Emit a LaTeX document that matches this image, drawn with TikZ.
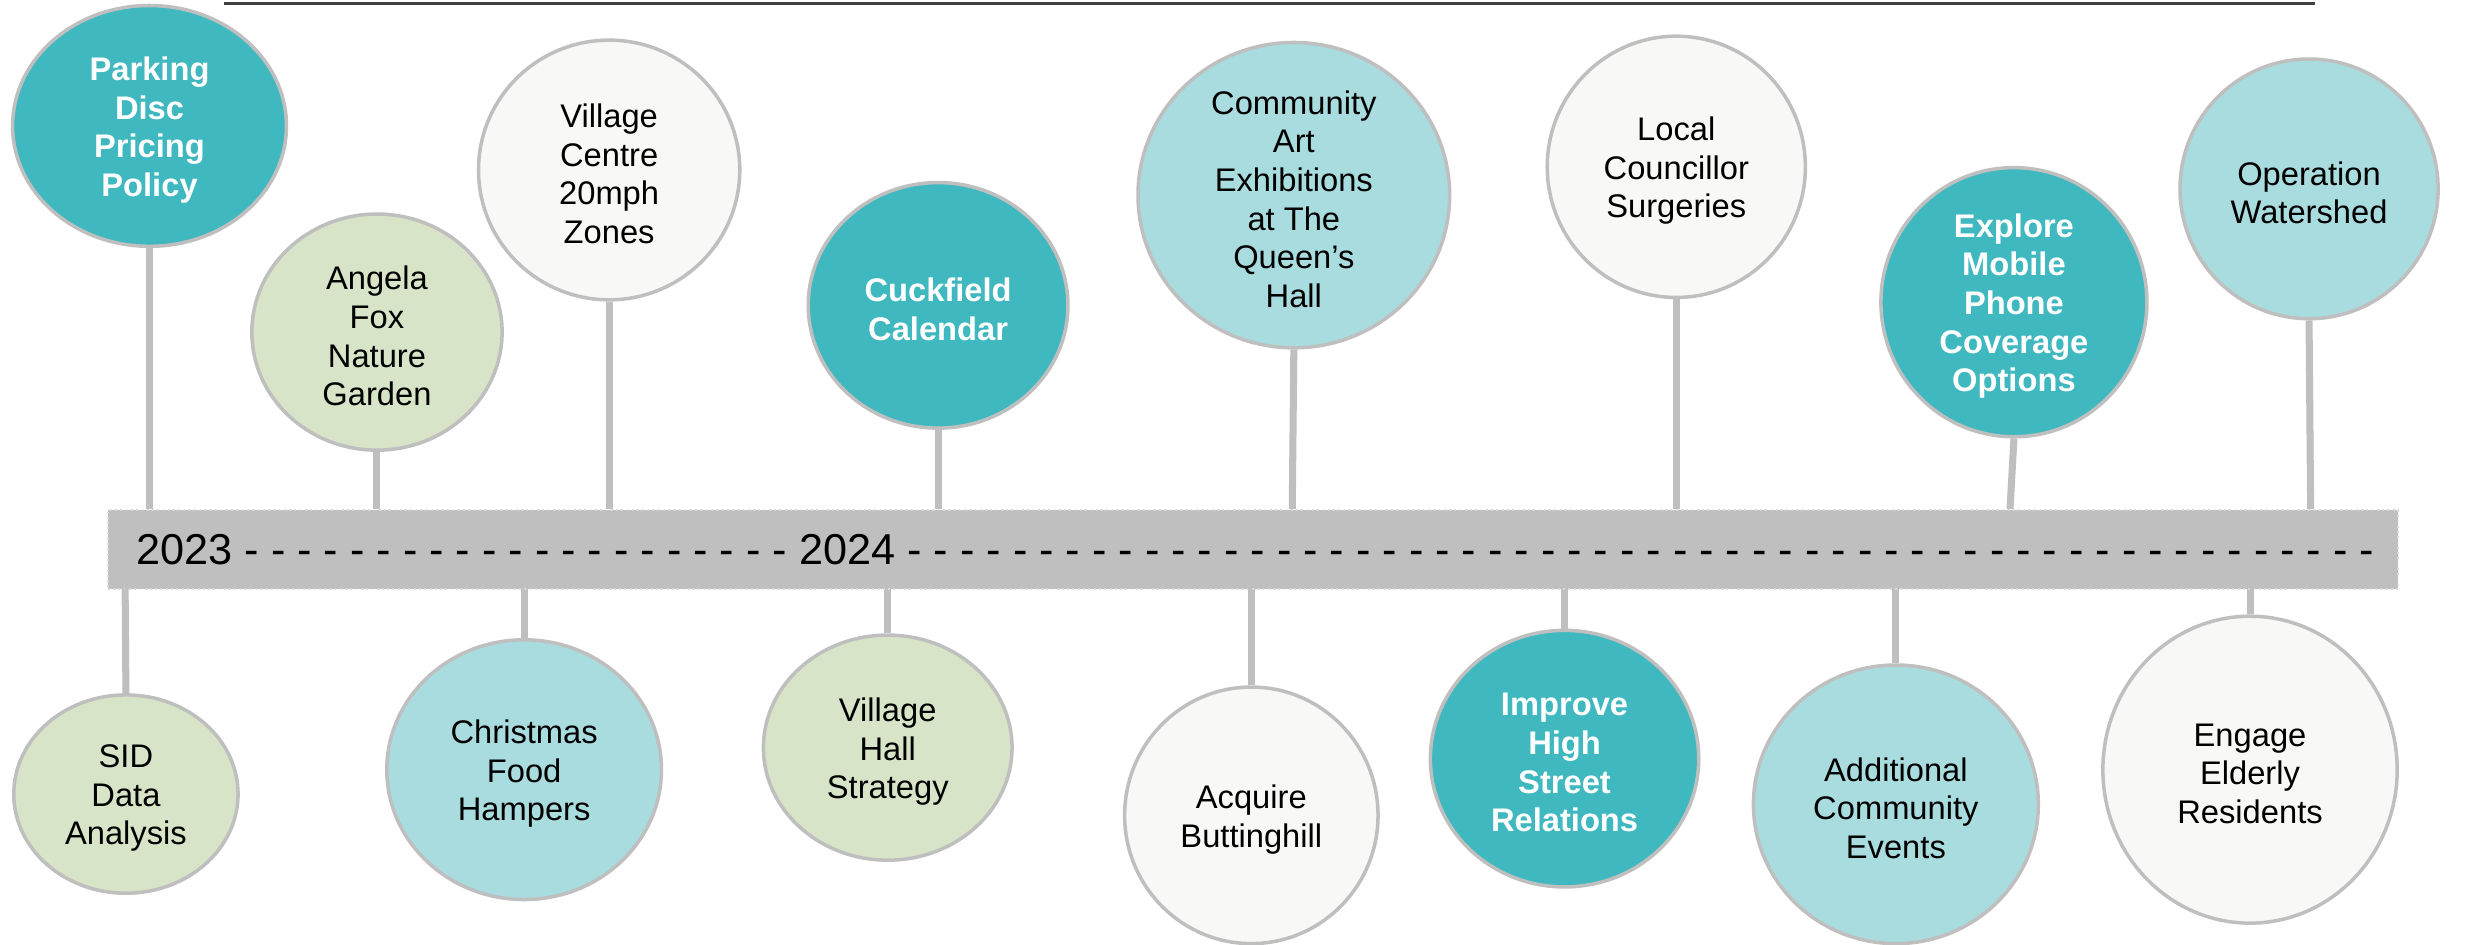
\documentclass[tikz,border=0pt]{standalone}
\usepackage{fontspec}
\setmainfont{Liberation Sans}
\usetikzlibrary{shapes.geometric,backgrounds}
\definecolor{tealc}{HTML}{3FB8BF}
\definecolor{lblue}{HTML}{A9DCDF}
\definecolor{lgreen}{HTML}{D8E4C7}
\definecolor{offw}{HTML}{F8F8F6}
\definecolor{ringgray}{HTML}{BFBFBF}
\definecolor{bargray}{HTML}{BFBFBF}
\definecolor{topline}{HTML}{404040}
\tikzset{
  blob/.style={ellipse, draw=ringgray, line width=1pt, inner sep=0pt},
  tealb/.style={blob, fill=tealc},
  blueb/.style={blob, fill=lblue},
  greenb/.style={blob, fill=lgreen},
  whiteb/.style={blob, fill=offw},
  btxt/.style={align=center, inner sep=0pt, yshift=-0.4mm, font=\fontsize{9.3}{11}\selectfont},
  ttxt/.style={btxt, text=white, font=\bfseries\fontsize{9.3}{11}\selectfont},
  stem/.style={draw=ringgray, line width=2pt},
}
\newcommand\bubble[7]{%
  \node[#2, minimum width=#5*0.1574mm, minimum height=#6*0.1574mm] (#1) at (#3,#4) {};
  \node[#7] (#1t) at (#1.center)}
\begin{document}
\begin{tikzpicture}[x=0.1574mm, y=-0.1574mm]
\useasboundingbox (0,0) rectangle (1568,600);
% top rule
\coordinate (tl) at (142,2.3);
\coordinate (tr) at (1471,2.3);
\draw[topline, line width=0.8pt] (tl) -- (tr);
% timeline bar
\node[draw=white!85!black, densely dotted, line width=0.5pt, fill=bargray, minimum width=1455*0.1574mm, minimum height=50*0.1574mm, inner sep=0pt, anchor=north west] (bar) at (68,323.5) {};
\node[anchor=west, inner sep=0pt, font=\fontsize{12.3}{14}\selectfont] (years) at (86.3,349.5)
 {2023 - - - - - - - - - - - - - - - - - - - - - 2024 - - - - - - - - - - - - - - - - - - - - - - - - - - - - - - - - - - - - - - - - - - - - - - - - - - - - - - - -};
% top bubbles
\bubble{n1}{tealb}{95}{80}{174}{153}{ttxt}{Parking\\Disc\\Pricing\\Policy};
\bubble{n2}{greenb}{239.5}{211}{159}{150}{btxt}{Angela\\Fox\\Nature\\Garden};
\bubble{n3}{whiteb}{387}{108}{166}{165}{btxt}{Village\\Centre\\20mph\\Zones};
\bubble{n4}{tealb}{596}{194}{165}{156}{ttxt}{Cuckfield\\Calendar};
\bubble{n5}{blueb}{822}{124}{198}{194}{btxt}{Community\\Art\\Exhibitions\\at The\\Queen’s\\Hall};
\bubble{n6}{whiteb}{1065}{106}{164}{166}{btxt}{Local\\Councillor\\Surgeries};
\bubble{n7}{tealb}{1279.5}{192}{169}{171}{ttxt}{Explore\\Mobile\\Phone\\Coverage\\Options};
\bubble{n8}{blueb}{1467}{120}{164}{165}{btxt}{Operation\\Watershed};
% bottom bubbles
\bubble{n9}{greenb}{80}{504.5}{142.5}{126}{btxt}{SID\\Data\\Analysis};
\bubble{n10}{blueb}{333}{489}{174.5}{165}{btxt}{Christmas\\Food\\Hampers};
\bubble{n11}{greenb}{564}{475}{158}{143}{btxt}{Village\\Hall\\Strategy};
\bubble{n12}{whiteb}{795}{518}{161}{163}{btxt}{Acquire\\Buttinghill};
\bubble{n13}{tealb}{994}{482}{170.5}{163}{ttxt}{Improve\\High\\Street\\Relations};
\bubble{n14}{blueb}{1204.5}{511}{181}{177}{btxt}{Additional\\Community\\Events};
\bubble{n15}{whiteb}{1429.5}{489}{187}{195}{btxt}{Engage\\Elderly\\Residents};
% anchor points on the bar
\foreach \i/\x in {1/95,2/239.5,3/387,4/596,5/821,6/1065,7/1277,8/1468}
  \coordinate (c\i) at (\x,323.5);
\foreach \i/\x in {9/79.5,10/333,11/564,12/795,13/994,14/1204.5,15/1429.5}
  \coordinate (c\i) at (\x,373.5);
\begin{scope}[on background layer]
\foreach \i in {1,...,8}
  \draw[stem] (n\i.south) -- (c\i);
\foreach \i in {9,...,15}
  \draw[stem] (n\i.north) -- (c\i);
\end{scope}
\end{tikzpicture}
\end{document}
